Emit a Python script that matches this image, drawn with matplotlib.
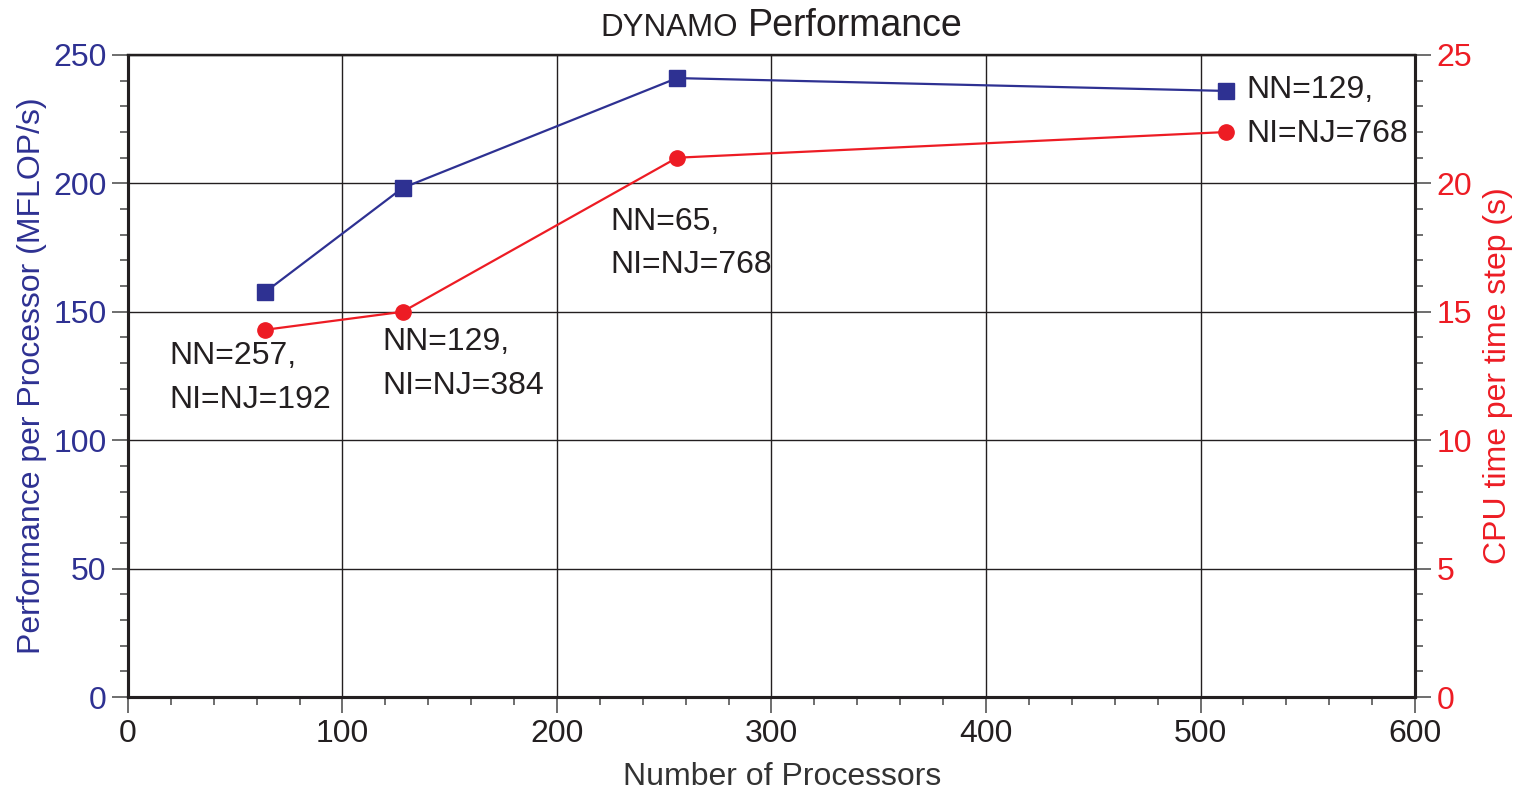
import numpy as np
import matplotlib
matplotlib.use("Agg")
import matplotlib.pyplot as plt
from matplotlib.ticker import MultipleLocator

plt.rcParams['font.family'] = ['Liberation Sans', 'DejaVu Sans']

# data
processors = [64, 128, 256, 512]
mflops = [157.7, 198.2, 241.0, 236.0]
cpu_time = [14.3, 15.0, 21.0, 22.0]
run_labels = ["NN=257,\nNI=NJ=192", "NN=129,\nNI=NJ=384",
              "NN=65,\nNI=NJ=768", "NN=129,\nNI=NJ=768"]
label_pos = [(19.5, 138.6), (118.8, 144.0), (225, 191.0), (521.3, 242.2)]

blue = '#2E3192'
red = '#ED1C24'
dark = '#231F20'
fs = 23

fig = plt.figure(figsize=(15.16, 7.9), dpi=100)
ax = fig.add_axes([0.0844, 0.1177, 0.849, 0.8127])
ax2 = ax.twinx()

ax.plot(processors, mflops, color=blue, lw=1.6, marker='s', ms=11, zorder=5)
ax2.plot(processors, cpu_time, color=red, lw=1.6, marker='o', ms=11, zorder=5)

ax.set_xlim(0, 600)
ax.set_ylim(0, 250)
ax2.set_ylim(0, 25)

ax.xaxis.set_major_locator(MultipleLocator(100))
ax.xaxis.set_minor_locator(MultipleLocator(20))
ax.yaxis.set_major_locator(MultipleLocator(50))
ax.yaxis.set_minor_locator(MultipleLocator(10))
ax2.yaxis.set_major_locator(MultipleLocator(5))
ax2.yaxis.set_minor_locator(MultipleLocator(1))

ax.grid(True, which='major', color=dark, lw=1.0)
ax.set_axisbelow(True)

for a in (ax, ax2):
    a.tick_params(which='major', length=11.5, width=1.2, color='#555555', pad=4, labelsize=fs)
    a.tick_params(which='minor', length=5.5, width=1.2, color='#555555')
    for s in a.spines.values():
        s.set_color(dark)
        s.set_linewidth(2.2)
    a.spines['top'].set_linewidth(1.6)

ax.tick_params(axis='x', labelcolor=dark)
ax.tick_params(axis='y', labelcolor=blue)
ax2.tick_params(axis='y', labelcolor=red)

ax.set_xlabel("Number of Processors", fontsize=fs, color='#333333', labelpad=10)
ax.xaxis.label.set_x(0.508)
ax.set_ylabel("Performance per Processor (MFLOP/s)", fontsize=fs, color=blue, labelpad=4)
ax2.set_ylabel("CPU time per time step (s)", fontsize=fs, color=red, labelpad=8)

for txt, (x, y) in zip(run_labels, label_pos):
    ax.text(x, y, txt, fontsize=fs, color=dark, va='top', ha='left', linespacing=1.6)

ax.text(0.474, 1.03, "DYNAMO", transform=ax.transAxes, fontsize=22.5,
        ha='right', va='baseline', color=dark)
ax.text(0.4817, 1.03, "Performance", transform=ax.transAxes, fontsize=27,
        ha='left', va='baseline', color=dark)

fig.savefig("out.png", dpi=100)
